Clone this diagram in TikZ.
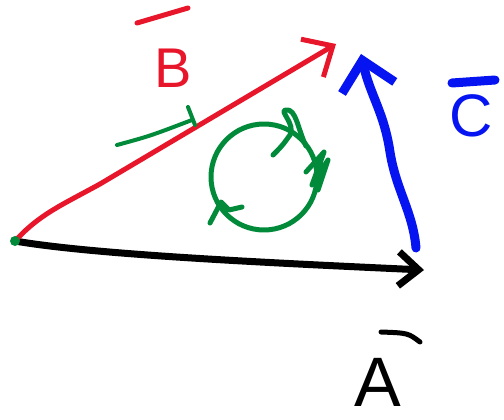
\documentclass[tikz,border=0pt]{standalone}
\usepackage{fontspec}
\setmainfont{Liberation Sans}
\usetikzlibrary{arrows.meta}
\definecolor{penred}{RGB}{232,22,42}
\definecolor{penblue}{RGB}{5,20,240}
\definecolor{pengreen}{RGB}{0,138,58}
\begin{document}
\begin{tikzpicture}[x=1pt,y=-1pt,line cap=round,line join=round,
  penline/.style={line width=#1},
  handtxt/.style={inner sep=0pt,font=\fontsize{#1}{#1}\selectfont}]
\useasboundingbox (0,0) rectangle (504,420);
\coordinate (O) at (15,241);
\coordinate (tipA) at (424,270);
\coordinate (tipB) at (336,44);
\coordinate (baseC) at (416,248);
\coordinate (tipC) at (361,54);
\draw[black,penline=7pt,-{Straight Barb[length=20pt,width=34pt]}] (O) .. controls (90,254) and (250,262) .. (tipA);
\draw[penred,penline=5pt,-{Straight Barb[length=24pt,width=44pt]}] (O) .. controls (40,214) and (60,206) .. (100,184) -- (tipB);
\draw[penblue,penline=9pt,-{Straight Barb[length=28pt,width=54pt]}] (baseC) .. controls (413,212) and (396,190) .. (390,152) .. controls (384,112) and (370,95) .. (tipC);
\fill[pengreen] (O) circle[radius=5];
\node[draw=pengreen,penline=5pt,circle,minimum size=106pt] (spin) at (264,177) {};
\draw[pengreen,penline=5pt] (273,155) .. controls (282,146) .. (290,135) .. controls (296,124) and (278,110) .. (286,110) .. controls (296,108) and (298,130) .. (306,146);
\draw[pengreen,penline=5pt] (306,172) -- (324,152) -- (312,185) -- (328,160) -- (318,190);
\draw[pengreen,penline=5pt] (210,223) -- (221,202) -- (229,210) -- (242,207);
\draw[pengreen,penline=4pt] (117,145) .. controls (150,136) .. (192,120);
\draw[pengreen,penline=4pt] (188,107) -- (195,125);
\node[handtxt=56,text=penred] (labB) at (173,68) {B};
\draw[penred,penline=5pt] (137,23) -- (188,8);
\node[handtxt=60,text=penblue] (labC) at (471,116) {C};
\draw[penblue,penline=9pt] (452,83) -- (495,80);
\node[handtxt=70,text=black] (labA) at (378,382) {A};
\draw[black,penline=5pt] (381,332) .. controls (408,333) .. (420,342);
\end{tikzpicture}
\end{document}
